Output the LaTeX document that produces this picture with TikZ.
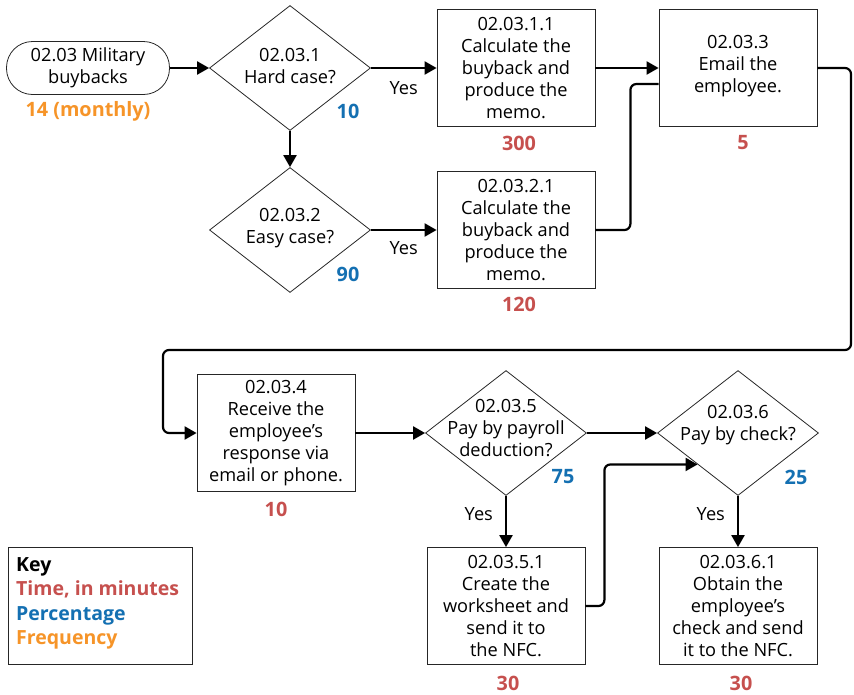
\documentclass[tikz,border=0pt]{standalone}
\usepackage{fontspec}
\setmainfont{Open Sans}
\usetikzlibrary{shapes.geometric,arrows.meta}
\definecolor{timered}{RGB}{198,80,78}
\definecolor{pctblue}{RGB}{20,112,178}
\definecolor{freqorange}{RGB}{246,148,40}

\begin{document}
\begin{tikzpicture}[
        x=1pt, y=-1pt,
        font=\fontsize{18.2}{22}\selectfont,
        step_box/.style={rectangle, draw=black!85, line width=0.8pt, minimum width=158pt, minimum height=117pt, inner sep=0pt, align=center},
        decision/.style={diamond, draw=black!85, line width=0.8pt, minimum width=161pt, minimum height=125pt, inner sep=0pt},
        terminal/.style={rectangle, rounded corners=26pt, draw=black!85, line width=0.8pt, minimum width=163pt, minimum height=53pt, inner sep=0pt, align=center},
        label_text/.style={align=center, inner sep=0pt},
        time/.style={text=timered, inner sep=0pt, font=\fontsize{19.8}{22}\selectfont\bfseries},
        pct/.style={text=pctblue, inner sep=0pt, font=\fontsize{19.8}{22}\selectfont\bfseries},
        freq/.style={text=freqorange, inner sep=0pt, font=\fontsize{19.8}{22}\selectfont\bfseries},
        flow/.style={-{Triangle[length=12pt,width=13pt]}, line width=2.2pt, rounded corners=6pt},
        link/.style={line width=2.2pt, rounded corners=6pt},
        yes/.style={font=\fontsize{18.2}{22}\selectfont, inner sep=0pt}
    ]

        % Bounding box
        \useasboundingbox (0,0) rectangle (854,694);

        % Start
        \node[terminal] (start) at (88,68) {02.03 Military\\buybacks};
        \node[freq] (start_freq) at (88,111) {14 (monthly)};

        % Hard case / easy case
        \node[decision] (hard) at (290,68) {};
        \node[label_text] (hard_text) at (290,66) {02.03.1\\Hard case?};
        \node[pct] (hard_pct) at (348,111) {10};

        \node[decision] (easy) at (290,230) {};
        \node[label_text] (easy_text) at (290,228) {02.03.2\\Easy case?};
        \node[pct] (easy_pct) at (348,274) {90};

        % Calculations
        \node[step_box] (calc_hard) at (516,68) {02.03.1.1\\Calculate the\\buyback and\\produce the\\memo.};
        \node[time] (calc_hard_time) at (519,143) {300};

        \node[step_box] (calc_easy) at (516,230) {02.03.2.1\\Calculate the\\buyback and\\produce the\\memo.};
        \node[time] (calc_easy_time) at (519,304) {120};

        % Email
        \node[step_box] (email) at (738,68) {};
        \node[label_text] (email_text) at (738,66) {02.03.3\\Email the\\employee.};
        \node[time] (email_time) at (743,143) {5};

        % Response
        \node[step_box] (response) at (276,433) {02.03.4\\Receive the\\employee's\\response via\\email or phone.};
        \node[time] (response_time) at (276,509) {10};

        % Payroll / check
        \node[decision] (payroll) at (506,433) {};
        \node[label_text] (payroll_text) at (506,428) {02.03.5\\Pay by payroll\\deduction?};
        \node[pct] (payroll_pct) at (563,477) {75};

        \node[decision] (check) at (738,433) {};
        \node[label_text] (check_text) at (738,425) {02.03.6\\Pay by check?};
        \node[pct] (check_pct) at (796,477) {25};

        \node[step_box] (worksheet) at (506,606) {02.03.5.1\\Create the\\worksheet and\\send it to\\the NFC.};
        \node[time] (worksheet_time) at (508,683) {30};

        \node[step_box] (obtain) at (738,606) {02.03.6.1\\Obtain the\\employee's\\check and send\\it to the NFC.};
        \node[time] (obtain_time) at (741,683) {30};

        % Key
        \node[rectangle, draw=black!85, line width=0.8pt, minimum width=184pt, minimum height=117pt, inner sep=0pt] (key) at (100,606) {};
        \node[anchor=north west, align=left, inner sep=0pt, font=\fontsize{19.5}{24.5}\selectfont\bfseries] (key_text) at (16,557)
            {Key\\\textcolor{timered}{Time, in minutes}\\\textcolor{pctblue}{Percentage}\\\textcolor{freqorange}{Frequency}};

        % Turning points
        \coordinate (turn_right) at (851,350);
        \coordinate (turn_left) at (163,350);

        % Arrows
        \draw[flow] (start) -- (hard);
        \draw[flow] (hard) -- (easy);
        \draw[flow] (hard) -- node[yes, below=12pt] (hard_yes) {Yes} (calc_hard);
        \draw[flow] (easy) -- node[yes, below=10pt] (easy_yes) {Yes} (calc_easy);
        \draw[flow] (calc_hard) -- (email);
        \draw[link] (calc_easy.east) -- ++(35,0) |- ([yshift=-16pt]email.west);
        \draw[flow] (email.east) -| (turn_right) -- (turn_left) |- (response.west);
        \draw[flow] (response) -- (payroll);
        \draw[flow] (payroll) -- (check);
        \draw[flow] (payroll) -- node[yes, pos=0.35, left=12pt] (payroll_yes) {Yes} (worksheet);
        \draw[flow] (check) -- node[yes, pos=0.35, left=12pt] (check_yes) {Yes} (obtain);
        \draw[flow] (worksheet.east) -- ++(19,0) |- (check.south west);

    \end{tikzpicture}
\end{document}
